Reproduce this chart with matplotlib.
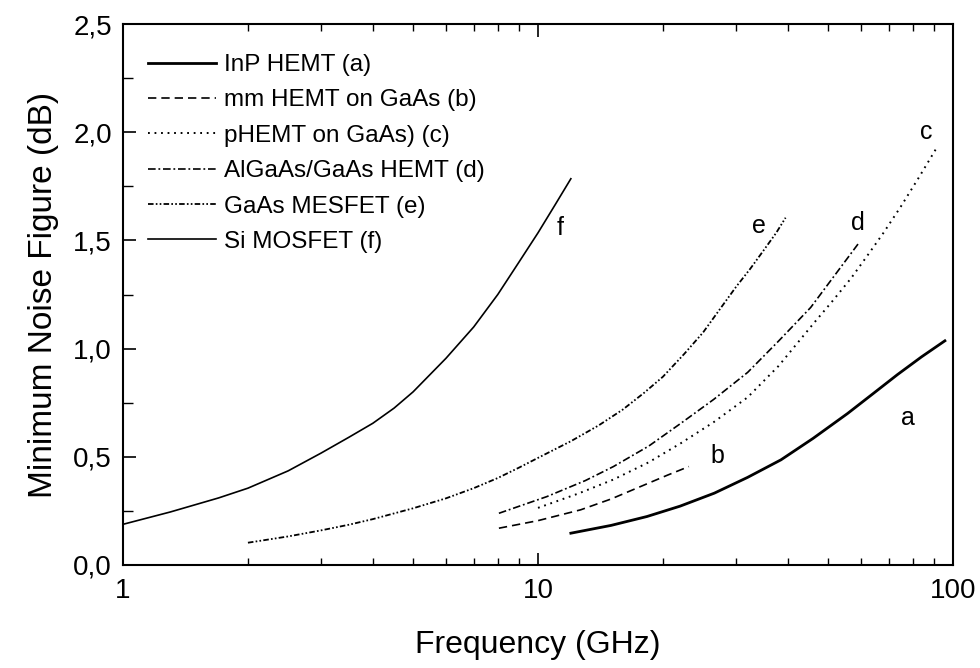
import matplotlib
matplotlib.use("Agg")
import matplotlib.pyplot as plt
from matplotlib.ticker import FixedLocator, FuncFormatter, NullFormatter

plt.rcParams['font.family'] = ['Liberation Sans', 'DejaVu Sans']
plt.rcParams['lines.scale_dashes'] = False

# Data (frequency in GHz, minimum noise figure in dB)
freq_a = [12.0, 15.0, 18.3, 22.0, 26.6, 32.0, 38.5, 46.0, 55.7, 64.0, 73.5, 84.0, 95.6]
nf_a = [0.147, 0.183, 0.224, 0.272, 0.332, 0.405, 0.486, 0.585, 0.70, 0.79, 0.88, 0.962, 1.036]

freq_b = [8.05, 10.0, 12.67, 15.0, 18.3, 20.5, 23.1]
nf_b = [0.17, 0.205, 0.255, 0.305, 0.375, 0.415, 0.455]

freq_c = [10.0, 12.5, 15.2, 18.5, 22.1, 26.5, 32.0, 38.0, 46.3, 51.0, 56.8, 62.2, 68.0, 74.9, 83.0, 91.8]
nf_c = [0.264, 0.33, 0.395, 0.475, 0.563, 0.66, 0.775, 0.92, 1.12, 1.215, 1.325, 1.43, 1.535, 1.657, 1.795, 1.935]

freq_d = [8.05, 10.5, 13.0, 15.2, 18.5, 22.1, 26.5, 32.0, 38.0, 45.4, 52.4, 59.4]
nf_d = [0.239, 0.316, 0.39, 0.455, 0.55, 0.655, 0.765, 0.89, 1.035, 1.19, 1.35, 1.49]

freq_e = [2.0, 2.5, 3.0, 3.5, 4.0, 5.0, 6.0, 7.0, 8.0, 9.0, 10.0, 12.0, 14.0, 16.0,
          18.0, 20.0, 22.5, 25.0, 27.5, 30.0, 32.5, 35.0, 37.5, 39.5]
nf_e = [0.103, 0.132, 0.160, 0.186, 0.212, 0.262, 0.308, 0.355, 0.402, 0.450, 0.495, 0.572,
        0.645, 0.718, 0.795, 0.870, 0.975, 1.075, 1.185, 1.285, 1.37, 1.455, 1.535, 1.605]

freq_f = [1.0, 1.3, 1.7, 2.0, 2.5, 3.0, 3.5, 4.0, 4.5, 5.0, 6.0, 7.0, 8.0, 9.0, 10.0, 11.0, 12.0]
nf_f = [0.188, 0.245, 0.310, 0.355, 0.435, 0.517, 0.59, 0.655, 0.725, 0.80, 0.955, 1.10,
        1.25, 1.40, 1.535, 1.665, 1.785]

labels = ["InP HEMT (a)", "mm HEMT on GaAs (b)", "pHEMT on GaAs) (c)",
          "AlGaAs/GaAs HEMT (d)", "GaAs MESFET (e)", "Si MOSFET (f)"]
curve_letters = ["a", "b", "c", "d", "e", "f"]
letter_x = [77.8, 27.0, 86.1, 58.9, 34.1, 11.29]
letter_y = [0.68, 0.504, 2.0, 1.58, 1.565, 1.557]

fig = plt.figure(figsize=(9.8, 6.68), dpi=100)
ax = fig.add_axes([123/980, 103/668, (953-123)/980, (565-24)/668])

ax.plot(freq_a, nf_a, color='black', lw=2.0, label=labels[0])
ax.plot(freq_b, nf_b, color='black', lw=1.2, dashes=(6, 3.6), label=labels[1])
ax.plot(freq_c, nf_c, color='black', lw=1.4, dashes=(1.3, 3.4), label=labels[2])
ax.plot(freq_d, nf_d, color='black', lw=1.2, dashes=(5.5, 2.0, 1.3, 2.0), label=labels[3])
ax.plot(freq_e, nf_e, color='black', lw=1.3, dashes=(4.0, 1.6, 1.2, 1.6, 1.2, 1.6), label=labels[4])
ax.plot(freq_f, nf_f, color='black', lw=1.2, label=labels[5])

for lt, lx, ly in zip(curve_letters, letter_x, letter_y):
    ax.text(lx, ly, lt, fontsize=18, ha='center', va='center')

ax.set_xscale('log')
ax.set_xlim(1, 100)
ax.set_ylim(0, 2.5)

ax.xaxis.set_major_locator(FixedLocator([1, 10, 100]))
ax.xaxis.set_minor_locator(FixedLocator([m * d for d in (1, 10) for m in range(2, 10)]))
ax.xaxis.set_major_formatter(FuncFormatter(lambda v, p: "%d" % round(v)))
ax.xaxis.set_minor_formatter(NullFormatter())
ax.yaxis.set_major_locator(FixedLocator([0, 0.5, 1.0, 1.5, 2.0, 2.5]))
ax.yaxis.set_minor_locator(FixedLocator([0.25, 0.75, 1.25, 1.75, 2.25]))
ax.yaxis.set_major_formatter(FuncFormatter(lambda v, p: ("%.1f" % v).replace('.', ',')))

ax.tick_params(axis='x', which='both', direction='in', top=True, bottom=True,
               labelsize=20, pad=9)
ax.tick_params(axis='x', which='major', length=9, width=1.2)
ax.tick_params(axis='x', which='minor', length=5, width=1.0)
ax.tick_params(axis='y', which='both', direction='in', left=True, right=False,
               labelsize=20, pad=8)
ax.tick_params(axis='y', which='major', length=9, width=1.2)
ax.tick_params(axis='y', which='minor', length=7, width=1.0)

for s in ax.spines.values():
    s.set_linewidth(1.5)

ax.set_xlabel("Frequency (GHz)", fontsize=23, labelpad=19)
ax.set_ylabel("Minimum Noise Figure (dB)", fontsize=24, labelpad=10)

leg = ax.legend(loc='upper left', bbox_to_anchor=(25/830, 1 - 30/541), frameon=False,
                fontsize=17.5, handlelength=2.8, handletextpad=0.33,
                labelspacing=0.55, borderpad=0, borderaxespad=0)

fig.savefig("out.png", dpi=100)
